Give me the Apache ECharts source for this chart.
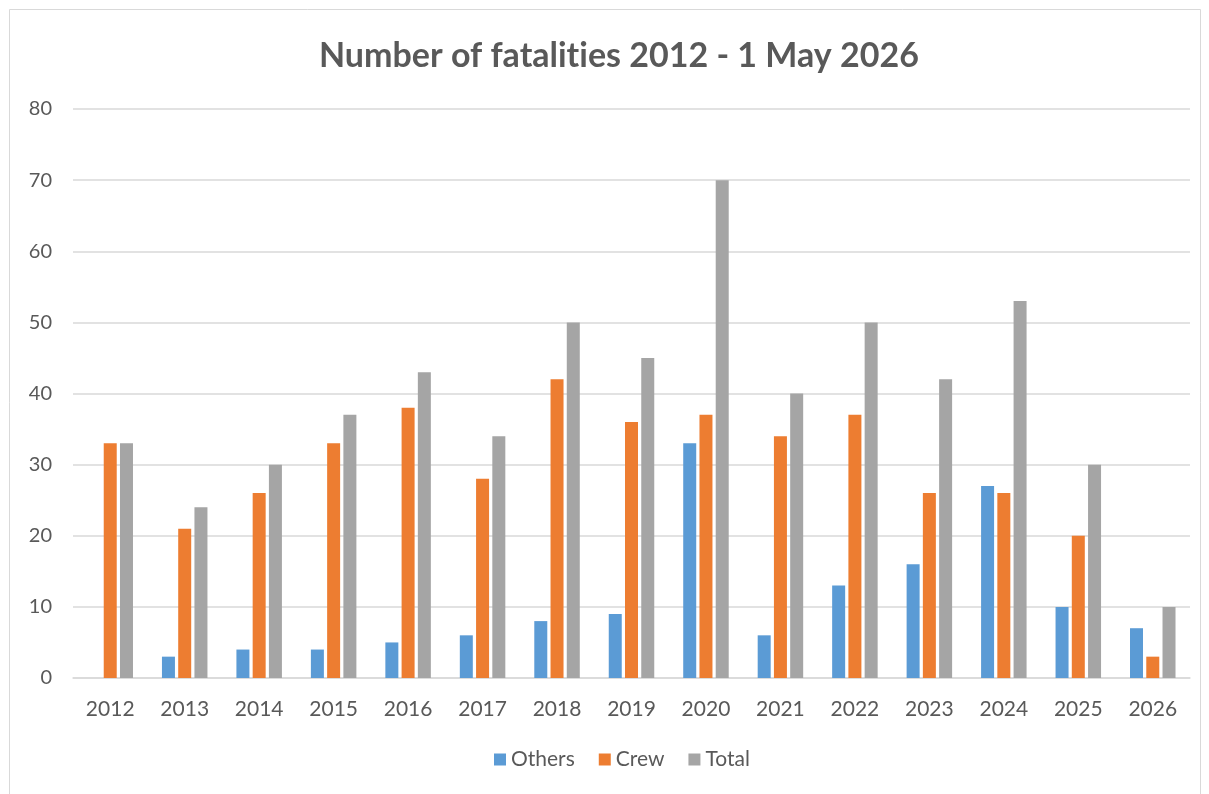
<!DOCTYPE html>
<html>
<head>
<meta charset="utf-8">
<script src="https://cdn.jsdelivr.net/npm/echarts@6/dist/echarts.min.js"></script>
<style>
  html, body { margin: 0; padding: 0; background: #fff; }
  #chart { width: 1209px; height: 794px; }
</style>
</head>
<body>
<div id="chart"></div>
<script>
// Fatalities per year, split by group
const years = ['2012','2013','2014','2015','2016','2017','2018','2019','2020','2021','2022','2023','2024','2025','2026'];
const others = [0, 3, 4, 4, 5, 6, 8, 9, 33, 6, 13, 16, 27, 10, 7];
const crew   = [33, 21, 26, 33, 38, 28, 42, 36, 37, 34, 37, 26, 26, 20, 3];
const total  = [33, 24, 30, 37, 43, 34, 50, 45, 70, 40, 50, 42, 53, 30, 10];

const FONT = 'Lato, "Open Sans", sans-serif';
const TEXT = '#595959';

const chart = echarts.init(document.getElementById('chart'), null, { renderer: 'canvas' });

function barSeries(name, data, color) {
  return {
    name: name,
    type: 'bar',
    data: data,
    barWidth: 13,
    barGap: '25%',
    itemStyle: { color: color },
    emphasis: { disabled: true }
  };
}

chart.setOption({
  animation: false,
  backgroundColor: '#fff',
  graphic: [{
    type: 'rect',
    shape: { x: 9.5, y: 9.5, width: 1191, height: 790 },
    style: { fill: 'none', stroke: '#d9d9d9', lineWidth: 1 },
    silent: true
  }],
  title: {
    // zero-width non-joiner keeps "t" and "i" as separate glyphs
    text: 'Number of fat\u200Calit\u200Cies 2012 - 1 May 2026',
    left: 314,
    top: 34,
    textStyle: { fontFamily: FONT, fontWeight: 'bold', fontSize: 34, color: TEXT }
  },
  legend: {
    bottom: 19,
    left: 489,
    itemWidth: 12,
    itemHeight: 12,
    itemGap: 24,
    icon: 'rect',
    textStyle: { fontFamily: FONT, fontSize: 21, color: TEXT },
    data: ['Others', 'Crew', 'Total']
  },
  grid: { left: 73, right: 19, top: 109, bottom: 116 },
  xAxis: {
    type: 'category',
    data: years,
    axisTick: { show: false },
    axisLine: { show: true, lineStyle: { color: '#d9d9d9', width: 1.5 } },
    axisLabel: { fontFamily: FONT, fontSize: 21, color: TEXT, margin: 21 }
  },
  yAxis: {
    type: 'value',
    min: 0,
    max: 80,
    interval: 10,
    axisLine: { show: false },
    axisTick: { show: false },
    splitLine: { lineStyle: { color: '#d9d9d9', width: 1.5 } },
    axisLabel: { fontFamily: FONT, fontSize: 20, color: TEXT, margin: 21 }
  },
  series: [
    barSeries('Others', others, '#5B9BD5'),
    barSeries('Crew', crew, '#ED7D31'),
    barSeries('Total', total, '#A5A5A5')
  ]
});
</script>
</body>
</html>
